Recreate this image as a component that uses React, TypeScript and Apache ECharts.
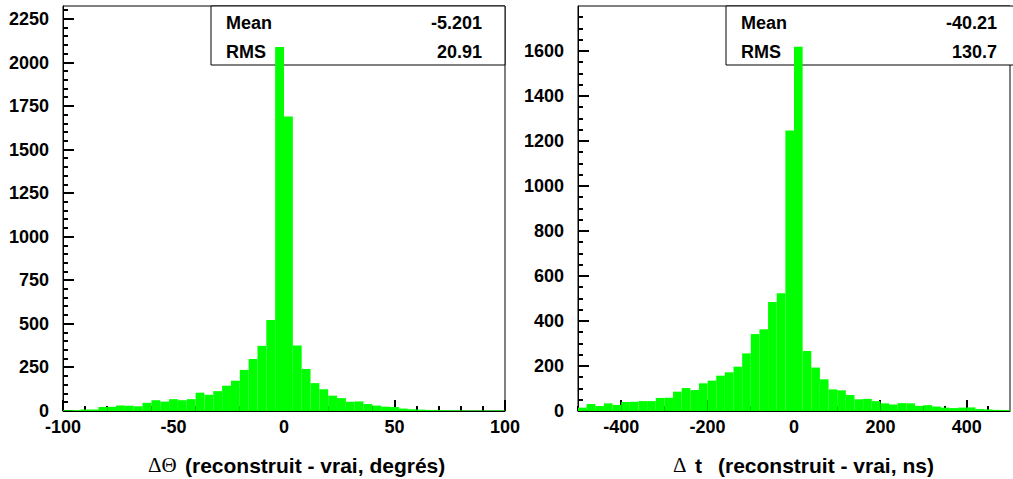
import React, { useEffect, useRef } from "react";
import * as echarts from "echarts";

// ---- Data: left histogram (ΔΘ, degrees), 4° bins from -100 to 100
const thetaBinStart = -100;
const thetaBinWidth = 4;
const thetaCounts = [
  4, 5, 8, 8, 23, 24, 31, 30, 27, 47,
  62, 54, 68, 62, 68, 105, 93, 114, 145, 174,
  236, 298, 374, 523, 2090, 1690, 376, 241, 160, 125,
  88, 74, 53, 55, 40, 31, 25, 23, 14, 10,
  8, 6, 5, 4, 4, 3, 3, 3, 3, 3,
];

// ---- Data: right histogram (Δt, ns), 20 ns bins from -500 to 500
const timeBinStart = -500;
const timeBinWidth = 20;
const timeCounts = [
  15, 31, 22, 34, 27, 40, 41, 44, 44, 58,
  59, 86, 102, 93, 123, 135, 157, 172, 197, 256,
  342, 363, 484, 523, 1247, 1619, 267, 193, 141, 96,
  92, 71, 52, 54, 44, 34, 29, 35, 34, 23,
  26, 20, 15, 13, 15, 16, 9, 7, 5, 4,
];

// ---- Axis ranges, tick labels and minor tick steps
const thetaXRange = [-100, 100];
const thetaYRange = [0, 2325];
const thetaXLabels = [-100, -50, 0, 50, 100];
const thetaYLabels = [0, 250, 500, 750, 1000, 1250, 1500, 1750, 2000, 2250];
const thetaXMinor = 10;
const thetaYMinor = 50;

const timeXRange = [-500, 500];
const timeYRange = [0, 1800];
const timeXLabels = [-400, -200, 0, 200, 400];
const timeYLabels = [0, 200, 400, 600, 800, 1000, 1200, 1400, 1600];
const timeXMinor = 50;
const timeYMinor = 50;

// ---- Stats boxes
const statNames = ["Mean", "RMS"];
const thetaStatValues = ["-5.201", "20.91"];
const timeStatValues = ["-40.21", "130.7"];

const SANS = '"Liberation Sans", Arial, Helvetica, sans-serif';
const SERIF = '"Liberation Serif", "Times New Roman", serif';

// layout
const PLOT_TOP = 6;
const PLOT_H = 405;
const PLOT_W = 442;
const LEFT_X = 63;
const RIGHT_X = 578;
const MAJOR_LEN = 11;
const MINOR_LEN = 5;
const TICK_WIDTH = 2;

function binsToData(start: number, width: number, counts: number[]) {
  return counts.map((c, i) => [start + i * width, start + (i + 1) * width, c]);
}

function stepValues(lo: number, hi: number, step: number): number[] {
  const out: number[] = [];
  const first = Math.ceil(lo / step) * step;
  for (let v = first; v < hi - 1e-9; v += step) out.push(v);
  return out;
}

const labelStyle = {
  fontFamily: SANS,
  fontWeight: "bold" as const,
  fontSize: 18,
  color: "#000",
};

function onlyLabels(labels: number[]) {
  return (v: number) => (labels.some((l) => Math.abs(l - v) < 1e-6) ? String(v) : "");
}

function xAxisDef(gridIndex: number, range: number[], interval: number, labels: number[]) {
  return {
    type: "value",
    gridIndex,
    position: "bottom",
    min: range[0],
    max: range[1],
    interval,
    axisLine: { show: true, onZero: false, lineStyle: { color: "#000", width: 1 } },
    axisTick: { show: false },
    axisLabel: { show: true, margin: 7, hideOverlap: false, formatter: onlyLabels(labels), ...labelStyle },
    splitLine: { show: false },
  };
}

function yAxisDef(gridIndex: number, range: number[], interval: number, labels: number[]) {
  return {
    type: "value",
    gridIndex,
    position: "left",
    min: range[0],
    max: range[1],
    interval,
    axisLine: { show: true, onZero: false, lineStyle: { color: "#000", width: 1 } },
    axisTick: { show: false },
    axisLabel: { show: true, margin: 14, hideOverlap: false, formatter: onlyLabels(labels), ...labelStyle },
    splitLine: { show: false },
  };
}

function histSeries(axisIndex: number, data: number[][]) {
  return {
    type: "custom",
    xAxisIndex: axisIndex,
    yAxisIndex: axisIndex,
    z: 5,
    data,
    encode: { x: [0, 1], y: 2 },
    renderItem: (_params: any, api: any) => {
      const lo = api.value(0);
      const hi = api.value(1);
      const v = api.value(2);
      const p0 = api.coord([lo, v]);
      const p1 = api.coord([hi, 0]);
      return {
        type: "rect",
        shape: { x: p0[0], y: p0[1], width: p1[0] - p0[0], height: p1[1] - p0[1] },
        style: { fill: "#00ff00" },
      };
    },
  };
}

function statBox(left: number, top: number, width: number, height: number, values: string[]) {
  const rowY = [top + 16.5, top + 46];
  const els: any[] = [
    {
      type: "rect",
      z: 1,
      shape: { x: left, y: top, width, height },
      style: { fill: "#fff", stroke: "#000", lineWidth: 1 },
    },
  ];
  statNames.forEach((name, i) => {
    els.push({
      type: "text",
      z: 10,
      x: left + 15,
      y: rowY[i],
      style: { text: name, font: `bold 18px ${SANS}`, fill: "#000", align: "left", verticalAlign: "middle" },
    });
    els.push({
      type: "text",
      z: 10,
      x: left + width - 23,
      y: rowY[i],
      style: { text: values[i], font: `bold 18px ${SANS}`, fill: "#000", align: "right", verticalAlign: "middle" },
    });
  });
  return els;
}

function titleTexts(): any[] {
  const titleY = 465;
  const t = (x: number, text: string, font: string) => ({
    type: "text",
    x,
    y: titleY,
    z: 10,
    style: { text, font, fill: "#000", align: "left", verticalAlign: "middle" },
  });
  return [
    t(148, "ΔΘ", `21px ${SERIF}`),
    t(185, "(reconstruit - vrai, degrés)", `bold 21px ${SANS}`),
    t(673, "Δ", `21px ${SERIF}`),
    t(695, "t", `bold 21px ${SANS}`),
    t(718, "(reconstruit - vrai, ns)", `bold 21px ${SANS}`),
  ];
}

// tick marks inside the frame, placed through the axes' own scales
function tickLines(
  chart: any,
  gridIndex: number,
  xr: number[],
  yr: number[],
  xMajor: number[],
  yMajor: number[],
  xMinorStep: number,
  yMinorStep: number
): any[] {
  const finder = { gridIndex };
  const els: any[] = [];
  const addX = (v: number, len: number) => {
    const p = chart.convertToPixel(finder, [v, yr[0]]) as number[];
    const x = Math.round(p[0]);
    els.push({ type: "line", shape: { x1: x, y1: p[1], x2: x, y2: p[1] - len }, style: { stroke: "#000", lineWidth: TICK_WIDTH } });
  };
  const addY = (v: number, len: number) => {
    const p = chart.convertToPixel(finder, [xr[0], v]) as number[];
    const y = Math.round(p[1]);
    els.push({ type: "line", shape: { x1: p[0], y1: y, x2: p[0] + len, y2: y }, style: { stroke: "#000", lineWidth: TICK_WIDTH } });
  };
  stepValues(xr[0], xr[1], xMinorStep).forEach((v) => addX(v, MINOR_LEN));
  xMajor.forEach((v) => addX(v, MAJOR_LEN));
  stepValues(yr[0], yr[1], yMinorStep).forEach((v) => addY(v, MINOR_LEN));
  yMajor.forEach((v) => addY(v, MAJOR_LEN));
  return els;
}

export default function App() {
  const ref = useRef<HTMLDivElement>(null);

  useEffect(() => {
    if (!ref.current) return;
    const chart = echarts.init(ref.current, undefined, { renderer: "svg" });

    const option: any = {
      animation: false,
      backgroundColor: "#fff",
      grid: [
        { left: LEFT_X, top: PLOT_TOP, width: PLOT_W, height: PLOT_H, show: true, borderColor: "#000", borderWidth: 1 },
        { left: RIGHT_X, top: PLOT_TOP, width: PLOT_W, height: PLOT_H, show: true, borderColor: "#000", borderWidth: 1 },
      ],
      xAxis: [
        xAxisDef(0, thetaXRange, 50, thetaXLabels),
        xAxisDef(1, timeXRange, 100, timeXLabels),
      ],
      yAxis: [
        yAxisDef(0, thetaYRange, 250, thetaYLabels),
        yAxisDef(1, timeYRange, 200, timeYLabels),
      ],
      series: [
        histSeries(0, binsToData(thetaBinStart, thetaBinWidth, thetaCounts)),
        histSeries(1, binsToData(timeBinStart, timeBinWidth, timeCounts)),
      ],
    };
    chart.setOption(option);

    const graphic = [
      ...statBox(211, PLOT_TOP, 294, 59, thetaStatValues),
      ...statBox(726, PLOT_TOP, 294, 59, timeStatValues),
      ...titleTexts(),
      ...tickLines(chart, 0, thetaXRange, thetaYRange, thetaXLabels, thetaYLabels, thetaXMinor, thetaYMinor),
      ...tickLines(chart, 1, timeXRange, timeYRange, timeXLabels, timeYLabels, timeXMinor, timeYMinor),
    ];
    chart.setOption({ graphic });

    return () => chart.dispose();
  }, []);

  return (
    <div
      ref={ref}
      style={{ position: "absolute", left: 0, top: 0, width: 1013, height: 479, background: "#fff" }}
    />
  );
}
